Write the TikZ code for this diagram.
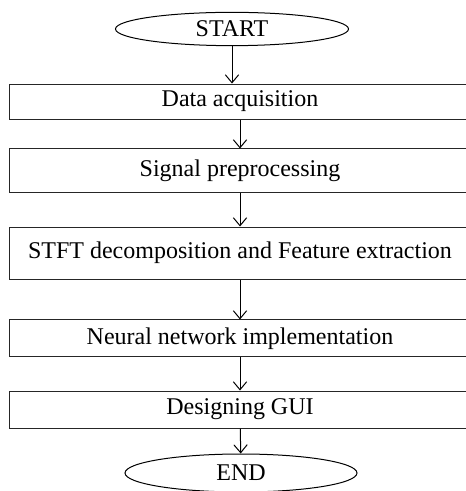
\documentclass[tikz,border=0pt]{standalone}
\usepackage{fontspec}
\setmainfont{Liberation Serif}
\usepackage{tikz}
\usetikzlibrary{positioning,shapes.geometric,arrows.meta}

\begin{document}
\begin{tikzpicture}[->, >={Straight Barb[length=6pt,width=10pt]}, on grid, line width=0.75pt,
    font=\fontsize{18}{22}\selectfont,
    terminal/.style={ellipse, draw=black, inner sep=0pt, minimum width=174.75pt, minimum height=25pt},
    stepbox/.style={rectangle, draw=black!85, inner sep=0pt, minimum width=345pt}]
			\useasboundingbox (-174pt,21.75pt) rectangle (175.5pt,-346.5pt);
			\clip (-174pt,21.75pt) rectangle (175.5pt,-346.5pt);
			\node [terminal] (T1) {START};
			\node [stepbox, minimum height=26.25pt] (B1) [below =54.4pt of T1, xshift=6pt] {Data acquisition};
			\node [stepbox, minimum height=33pt] (B2) [below =52.1pt of B1] {Signal preprocessing};
			\node [stepbox, minimum height=39pt] (B3) [below =61.5pt of B2] {STFT decomposition and Feature extraction};
			\node [stepbox, minimum height=27.75pt] (B4) [below =64.1pt of B3] {Neural network implementation};
			\node [stepbox, minimum height=27.75pt] (B5) [below =53.3pt of B4] {Designing GUI};
			\node [terminal, minimum width=174pt, minimum height=28.5pt] (T2) [below =47.6pt of B5, xshift=0.75pt] {END};
			\path (T1) edge (T1 |- B1.north);
			\path (B1) edge (B2);
			\path (B2) edge (B3);
			\path (B3) edge (B4);
			\path (B4) edge (B5);
			\path (B5) edge (T2);
\end{tikzpicture}
\end{document}
